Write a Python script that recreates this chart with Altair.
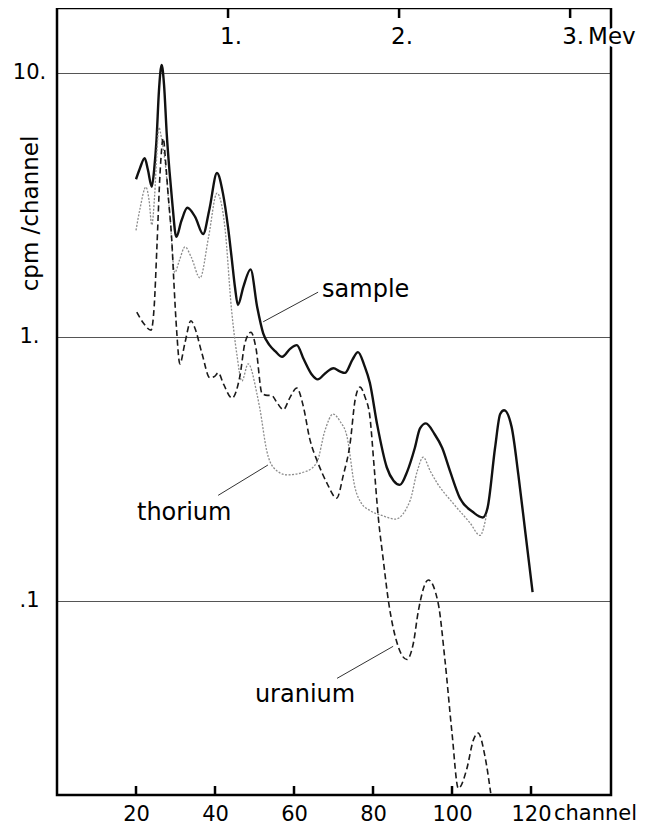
import altair as alt
import pandas as pd

FONT = "DejaVu Sans"

# ---------------- data ----------------
sample_channel = [20, 21, 22.2, 23, 24, 24.6, 25.2, 25.8, 26.5, 27.1, 27.8, 28.5, 29.2, 30.2,
                  31.5, 33, 35, 37, 38.6, 40.5, 42, 43.3, 44.2, 45.06, 45.8, 47.2, 49, 50.7, 52.2,
                  53.8, 55.3, 57, 59, 60.7, 62.5, 64.5, 66, 68, 70, 71.6, 72.9, 74.8, 76.2,
                  77.8, 79.2, 81, 83.5, 85.2, 86.8, 88.7, 90.6, 91.9, 93.4, 95.5, 97.5, 99.5,
                  102, 105.3, 107.8, 109, 110.9, 112.2, 113.2, 115.1, 116.8, 118.6, 120.4]
sample_cpm = [3.95, 4.35, 4.75, 4.3, 3.7, 4.3, 5.6, 8.5, 10.7, 9.0, 5.8, 4.2, 3.2, 2.39,
              2.75, 3.08, 2.84, 2.45, 3.05, 4.17, 3.5, 2.6, 2.0, 1.54, 1.32, 1.55, 1.8, 1.29, 1.03,
              0.93, 0.88, 0.84, 0.9, 0.93, 0.82, 0.72, 0.69, 0.73, 0.76, 0.74, 0.73, 0.82, 0.875,
              0.78, 0.67, 0.47, 0.32, 0.285, 0.275, 0.31, 0.38, 0.45, 0.47, 0.43, 0.38, 0.31,
              0.245, 0.217, 0.207, 0.225, 0.38, 0.51, 0.527, 0.455, 0.30, 0.18, 0.108]

thorium_channel = [20, 21, 22.5, 23.3, 24, 24.7, 25.3, 25.8, 26.5, 27.3, 28.6, 29.8, 31, 32.4,
                   34, 36.2, 38.4, 40.5, 42.5, 44.2, 45.5, 46.8, 48.4, 50.6, 51.4, 53.1, 54.8,
                   58.2, 63.2, 65.8, 67.8, 69.9, 71.6, 73.4, 75.4, 77, 79.2, 82.5, 85.6, 89.4,
                   91.2, 92.7, 94.5, 96.2, 100.3, 104.6, 107.1, 108.8]
thorium_cpm = [2.53, 3.05, 3.69, 3.3, 2.65, 3.4, 5.0, 6.2, 5.6, 4.67, 2.84, 1.75, 1.95, 2.19,
               2.0, 1.67, 2.4, 3.5, 2.6, 1.26, 0.865, 0.68, 0.79, 0.61, 0.53, 0.37, 0.32,
               0.30, 0.31, 0.335, 0.44, 0.51, 0.48, 0.42, 0.27, 0.235, 0.22, 0.21, 0.204, 0.24,
               0.31, 0.35, 0.31, 0.28, 0.234, 0.197, 0.177, 0.214]

uranium_channel = [20.2, 22, 23.8, 24.6, 25.3, 26.1, 26.9, 27.5, 28.1, 29.1, 29.6, 30.3, 31.1,
                   32.4, 33.9, 34.9, 36.7, 38.7, 40.0, 40.8, 42.2, 44.3, 46.3, 47.6, 49.1, 50.4,
                   51.9, 53.2, 54.3, 55.8, 57.3, 59, 60.7, 62.3, 64, 66, 68.3, 70.8, 72.5, 74.2,
                   75.5, 76.7, 78, 79.2, 80.3, 81.3, 82.6, 83.9, 86, 88.6, 90.2, 91.5, 94, 96.5,
                   98.2, 100, 101.6, 103.7, 105.4, 106.6, 108.3, 109.8]
uranium_cpm = [1.24, 1.12, 1.06, 1.3, 2.2, 4.2, 5.65, 4.6, 3.5, 2.26, 1.6, 1.05, 0.79,
               0.95, 1.15, 1.08, 0.865, 0.70, 0.71, 0.73, 0.66, 0.586, 0.71, 0.95, 1.04, 0.9,
               0.61, 0.6, 0.6, 0.56, 0.53, 0.59, 0.64, 0.55, 0.41, 0.335, 0.28, 0.245, 0.3, 0.395,
               0.58, 0.645, 0.59, 0.5, 0.32, 0.21, 0.143, 0.10, 0.07, 0.06, 0.069, 0.092, 0.12, 0.098,
               0.06, 0.0316, 0.0195, 0.023, 0.0297, 0.0316, 0.026, 0.0187]

x_tick_values = [20, 40, 60, 80, 100, 120]
y_tick_values = [0.1, 1, 10]
y_tick_labels = [".1", "1.", "10."]
mev_values = [1, 2, 3]
mev_labels = ["1.", "2.", "3."]
mev_unit = "Mev"
CH_PER_MEV = 43.3

label_text = ["sample", "thorium", "uranium"]
label_channel = [67.1, 20.25, 50.1]
label_cpm = [1.41, 0.202, 0.0413]

leader_channel = [52.2, 40.8, 70.9]
leader_cpm = [1.14, 0.251, 0.0509]
leader_channel2 = [66.1, 53.4, 85.1]
leader_cpm2 = [1.476, 0.327, 0.0673]

# ---------------- tables ----------------
df_sample = pd.DataFrame({"channel": sample_channel, "cpm": sample_cpm})
df_thorium = pd.DataFrame({"channel": thorium_channel, "cpm": thorium_cpm})
df_uranium = pd.DataFrame({"channel": uranium_channel, "cpm": uranium_cpm})
df_xt = pd.DataFrame({"channel": x_tick_values})
df_mev = pd.DataFrame({"mev": mev_values, "label": mev_labels})
df_unit = pd.DataFrame({"mev": [mev_values[-1]], "label": [mev_unit]})
df_lab = pd.DataFrame({"channel": label_channel, "cpm": label_cpm, "text": label_text})
df_lead = pd.DataFrame({"channel": leader_channel, "cpm": leader_cpm,
                        "channel2": leader_channel2, "cpm2": leader_cpm2})
df_one = pd.DataFrame({"k": [0]})

W, H = 554, 787
xscale = alt.Scale(domain=[0, 140.25], nice=False, zero=False)
yscale = alt.Scale(type="log", domain=[0.01841, 17.58], nice=False)

expr_parts = " : ".join(
    [f"(abs(datum.value - {v}) < 1e-9 ? '{l}'" for v, l in zip(y_tick_values, y_tick_labels)]
)
label_expr = expr_parts + " : ''" + ")" * len(y_tick_values)

x_axis = alt.Axis(values=x_tick_values, grid=False, ticks=False, domain=False,
                  labelFontSize=21, labelPadding=8, labelColor="black", title=None,
                  labelFlush=False, labelOverlap=False, labelFont=FONT)
y_axis = alt.Axis(values=y_tick_values, labelExpr=label_expr, grid=True, gridColor="#555",
                  gridWidth=1, ticks=False, domain=False, labelFontSize=21,
                  labelAlign="center", labelBaseline="middle", labelPadding=28,
                  labelColor="black", labelOverlap=False, labelFont=FONT,
                  title="cpm /channel", titleFontSize=23, titleFontWeight="normal",
                  titleX=-20, titleY=205, titleAngle=270, titleBaseline="alphabetic",
                  titleAlign="center", titleColor="black", titleFont=FONT)

X = alt.X("channel:Q", scale=xscale)
Y = alt.Y("cpm:Q", scale=yscale)

sample = alt.Chart(df_sample).mark_line(
    interpolate="monotone", color="#111", strokeWidth=2.4
).encode(
    x=alt.X("channel:Q", scale=xscale, axis=x_axis),
    y=alt.Y("cpm:Q", scale=yscale, axis=y_axis),
)

thorium = alt.Chart(df_thorium).mark_line(
    interpolate="monotone", color="#8c8c8c", strokeWidth=1.3, strokeDash=[2, 1.5]
).encode(x=X, y=Y)

uranium = alt.Chart(df_uranium).mark_line(
    interpolate="monotone", color="#1a1a1a", strokeWidth=1.6, strokeDash=[6, 3.5]
).encode(x=X, y=Y)

leaders = alt.Chart(df_lead).mark_rule(color="#333", strokeWidth=1).encode(
    x=X, y=Y, x2="channel2:Q", y2="cpm2:Q",
)

labels = alt.Chart(df_lab).mark_text(
    align="left", baseline="alphabetic", fontSize=24, font=FONT, color="black"
).encode(x=X, y=Y, text="text:N")

bottom_ticks = alt.Chart(df_xt).mark_rule(color="black", strokeWidth=2.5).encode(
    x=X, y=alt.value(H), y2=alt.value(H - 9),
)

channel_word = alt.Chart(df_xt).transform_filter(
    f"datum.channel == {x_tick_values[-1]}"
).mark_text(
    align="left", baseline="top", fontSize=21, font=FONT, color="black", dx=23
).encode(x=X, y=alt.value(H + 8), text=alt.value("channel"))

XE = alt.X("channel:Q", scale=xscale)

top_ticks = alt.Chart(df_mev).transform_calculate(
    channel=f"datum.mev * {CH_PER_MEV}"
).mark_rule(color="black", strokeWidth=2.5).encode(
    x=XE, y=alt.value(0), y2=alt.value(10),
)

top_labels = alt.Chart(df_mev).transform_calculate(
    channel=f"datum.mev * {CH_PER_MEV}"
).mark_text(
    align="center", baseline="middle", fontSize=23, font=FONT, color="black", dx=3
).encode(x=XE, y=alt.value(29), text="label:N")

frame = alt.Chart(df_one).mark_rect(
    fillOpacity=0, stroke="black", strokeWidth=2.5
).encode(x=alt.value(0), x2=alt.value(W), y=alt.value(0), y2=alt.value(H))

unit_halo = alt.Chart(df_unit).transform_calculate(
    channel=f"datum.mev * {CH_PER_MEV}"
).mark_text(
    align="left", baseline="middle", fontSize=23, font=FONT, color="white",
    stroke="white", strokeWidth=7, dx=18
).encode(x=XE, y=alt.value(29), text="label:N")

unit_text = alt.Chart(df_unit).transform_calculate(
    channel=f"datum.mev * {CH_PER_MEV}"
).mark_text(
    align="left", baseline="middle", fontSize=23, font=FONT, color="black", dx=18
).encode(x=XE, y=alt.value(29), text="label:N")

chart = alt.layer(
    sample, thorium, uranium, leaders, labels, bottom_ticks, channel_word,
    top_ticks, top_labels, frame, unit_halo, unit_text
).properties(
    width=W, height=H,
    autosize=alt.AutoSizeParams(type="none"),
    padding={"left": 49, "top": 0, "right": 35, "bottom": 31},
    background="white",
).configure_view(stroke=None)

chart.save("out.html", embed_options={"renderer": "svg", "actions": False})
